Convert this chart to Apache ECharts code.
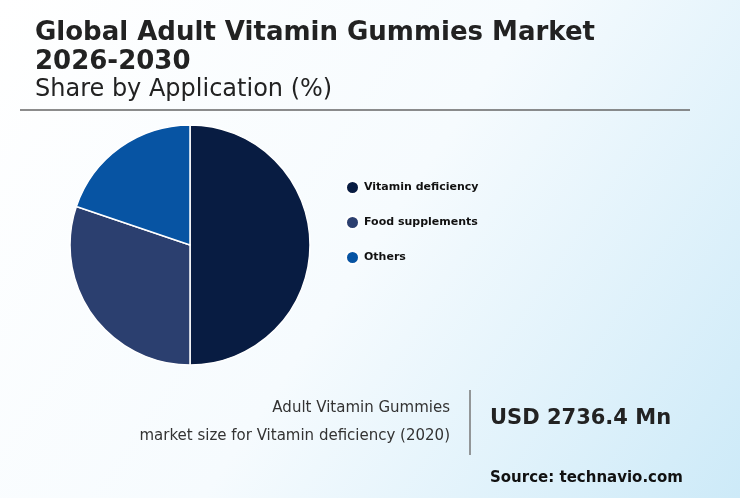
<!DOCTYPE html>
<html><head><meta charset="utf-8">
<script src="https://cdn.jsdelivr.net/npm/echarts@6/dist/echarts.min.js"></script>
<style>html,body{margin:0;padding:0}#c{width:740px;height:498px}</style>
</head><body><div id="c"></div>
<script>
const categories = ["Vitamin deficiency", "Food supplements", "Others"];
const shares = [50.0, 30.2, 19.8];
const colors = ["#081c42", "#2b3f6f", "#0754a3"];
const F = "DejaVu Sans";
const chart = echarts.init(document.getElementById('c'));
chart.setOption({
  backgroundColor: {type:'linear',x:0,y:0,x2:1,y2:1,colorStops:[{offset:0,color:'#ffffff'},{offset:0.5,color:'#f6fbfe'},{offset:1,color:'#cdeaf8'}]},
  title: [
    {text:'Global Adult Vitamin Gummies Market\n2026-2030', left:30, top:14, textStyle:{fontFamily:F,fontSize:26,fontWeight:'bold',color:'#222',lineHeight:29}},
    {text:'Share by Application (%)', left:30, top:73, textStyle:{fontFamily:F,fontSize:24,fontWeight:'normal',color:'#222'}}
  ],
  legend: {orient:'vertical', left:340, top:175, itemGap:20, icon:'circle', itemWidth:13, itemHeight:13,
    textStyle:{fontFamily:F,fontSize:11,fontWeight:'bold',color:'#111'}, data:categories},
  graphic: [
    {type:'line', shape:{x1:20,y1:110,x2:690,y2:110}, style:{stroke:'#666',lineWidth:1.5}},
    {type:'line', shape:{x1:470,y1:390,x2:470,y2:455}, style:{stroke:'#777',lineWidth:1.5}},
    {type:'text', right:290, top:401, style:{text:'Adult Vitamin Gummies', font:'15px "DejaVu Sans"', fill:'#333', textAlign:'right'}},
    {type:'text', right:290, top:429, style:{text:'market size for Vitamin deficiency (2020)', font:'15px "DejaVu Sans"', fill:'#333', textAlign:'right'}},
    {type:'text', left:490, top:408, style:{text:'USD 2736.4 Mn', font:'bold 21px "DejaVu Sans"', fill:'#222'}},
    {type:'text', left:490, top:471, style:{text:'Source: technavio.com', font:'bold 15px "DejaVu Sans"', fill:'#111'}}
  ],
  series: [{type:'pie', center:[190,245], radius:[0,120], startAngle:90, clockwise:true,
    label:{show:false}, labelLine:{show:false}, silent:true,
    itemStyle:{borderColor:'#fff',borderWidth:1.5},
    data: categories.map((n,i)=>({name:n,value:shares[i],itemStyle:{color:colors[i]}}))}]
});
</script></body></html>
